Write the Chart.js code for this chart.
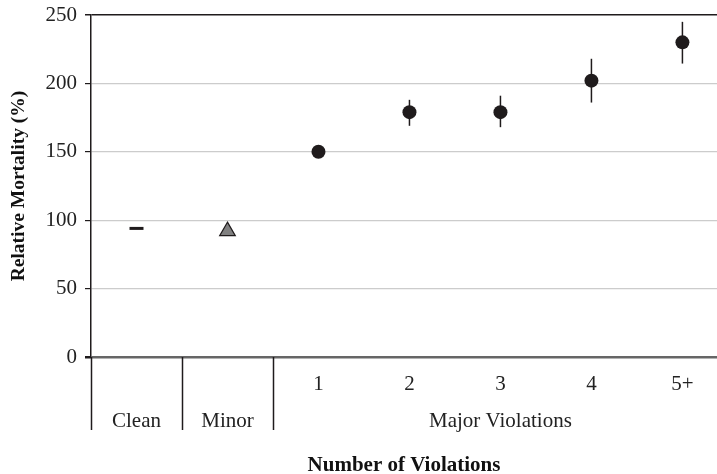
<!DOCTYPE html>
<html>
<head>
<meta charset="utf-8">
<script src="https://cdn.jsdelivr.net/npm/chart.js@4.4.1/dist/chart.umd.min.js"></script>
<style>
  html, body { margin: 0; padding: 0; background: #fff; }
  #wrap { width: 717px; height: 474px; }
</style>
</head>
<body>
<div id="wrap"><canvas id="mortalityChart" width="717" height="474"></canvas></div>
<script>
// ---- data ----
const categories = ['Clean', 'Minor', '1', '2', '3', '4', '5+'];
const tickLabels = ['', '', '1', '2', '3', '4', '5+'];
const groupLabels = ['Clean', 'Minor', '', '', 'Major Violations', '', ''];
const groupBreaks = [-0.5, 0.5, 1.5];          // vertical separators below the axis
const mortality = [94, 92, 150, 179, 179, 202, 230];
const errLower  = [null, null, 147, 169, 168, 186, 214.5];
const errUpper  = [null, null, 153, 188, 191, 218, 245];
const yTicks = [0, 50, 100, 150, 200, 250];

const SERIF = '"Liberation Serif", "DejaVu Serif", serif';
const INK = '#1f1b1c';

// split points by marker type
const cleanPts = [{ x: 0, y: mortality[0] }];
const minorPts = [{ x: 1, y: mortality[1] }];
const majorPts = mortality.slice(2).map((v, i) => ({ x: i + 2, y: v }));

// error bars, drawn under the markers
const errorBars = {
    id: 'errorBars',
    beforeDatasetsDraw(chart) {
        const { ctx, scales: { x, y } } = chart;
        ctx.save();
        ctx.strokeStyle = INK;
        ctx.lineWidth = 1.5;
        mortality.forEach((v, i) => {
            if (errLower[i] == null) return;
            const px = x.getPixelForValue(i);
            ctx.beginPath();
            ctx.moveTo(px, y.getPixelForValue(errLower[i]));
            ctx.lineTo(px, y.getPixelForValue(errUpper[i]));
            ctx.stroke();
        });
        ctx.restore();
    }
};

// separators between Clean / Minor / Major groups below the axis
const groupSeparators = {
    id: 'groupSeparators',
    afterDraw(chart) {
        const { ctx, chartArea, scales: { x } } = chart;
        ctx.save();
        ctx.strokeStyle = INK;
        ctx.lineWidth = 1.5;
        groupBreaks.forEach(b => {
            const px = Math.round(x.getPixelForValue(b)) + 0.5;
            ctx.beginPath();
            ctx.moveTo(px, chartArea.bottom);
            ctx.lineTo(px, chartArea.bottom + 73);
            ctx.stroke();
        });
        ctx.restore();
    }
};

new Chart(document.getElementById('mortalityChart'), {
    type: 'scatter',
    data: {
        datasets: [
            {
                label: 'Clean',
                data: cleanPts,
                pointStyle: 'line',
                pointRadius: 7,
                pointBorderWidth: 3,
                borderColor: INK,
                backgroundColor: INK
            },
            {
                label: 'Minor',
                data: minorPts,
                pointStyle: 'triangle',
                pointRadius: 9,
                pointBorderWidth: 1.2,
                borderColor: INK,
                backgroundColor: '#808080'
            },
            {
                label: 'Major Violations',
                data: majorPts,
                pointStyle: 'circle',
                pointRadius: 7,
                pointBorderWidth: 0,
                borderColor: INK,
                backgroundColor: INK
            }
        ]
    },
    options: {
        responsive: false,
        animation: false,
        layout: { autoPadding: false, padding: { top: 15, right: 0, left: 0, bottom: 0 } },
        plugins: { legend: { display: false }, tooltip: { enabled: false } },
        scales: {
            x: {
                type: 'linear',
                min: -0.5,
                max: 6.38,
                afterBuildTicks: s => { s.ticks = categories.map((c, i) => ({ value: i })); },
                afterFit: s => { s.height = 117; s.paddingLeft = 0; s.paddingRight = 0; },
                grid: { display: false, drawTicks: false },
                border: { display: false },
                ticks: {
                    autoSkip: false,
                    maxRotation: 0,
                    padding: 9,
                    color: '#222',
                    font: { family: SERIF, size: 21, lineHeight: '37px' },
                    callback: (v) => [tickLabels[v], groupLabels[v]]
                },
                title: {
                    display: true,
                    text: 'Number of Violations',
                    color: '#111',
                    padding: { top: 0, bottom: 0 },
                    font: { family: SERIF, size: 21, weight: 'bold', lineHeight: 0.8 }
                }
            },
            y: {
                min: 0,
                max: 250,
                afterBuildTicks: s => { s.ticks = yTicks.map(v => ({ value: v })); },
                afterFit: s => { s.width = 91; s.paddingTop = 0; s.paddingBottom = 0; },
                border: { display: true, color: INK, width: 1.5 },
                grid: {
                    color: c => c.tick.value === 250 ? INK : (c.tick.value === 0 ? '#666' : '#cccccc'),
                    lineWidth: c => c.tick.value === 0 ? 2.5 : (c.tick.value === 250 ? 1.5 : 1.2),
                    tickColor: INK,
                    tickLength: 6,
                    drawTicks: true
                },
                ticks: {
                    padding: 8,
                    color: '#222',
                    font: { family: SERIF, size: 21 }
                },
                title: {
                    display: true,
                    text: 'Relative Mortality (%)',
                    color: '#111',
                    padding: { top: 7, bottom: 0 },
                    font: { family: SERIF, size: 19.5, weight: 'bold' }
                }
            }
        }
    },
    plugins: [errorBars, groupSeparators]
});
</script>
</body>
</html>
